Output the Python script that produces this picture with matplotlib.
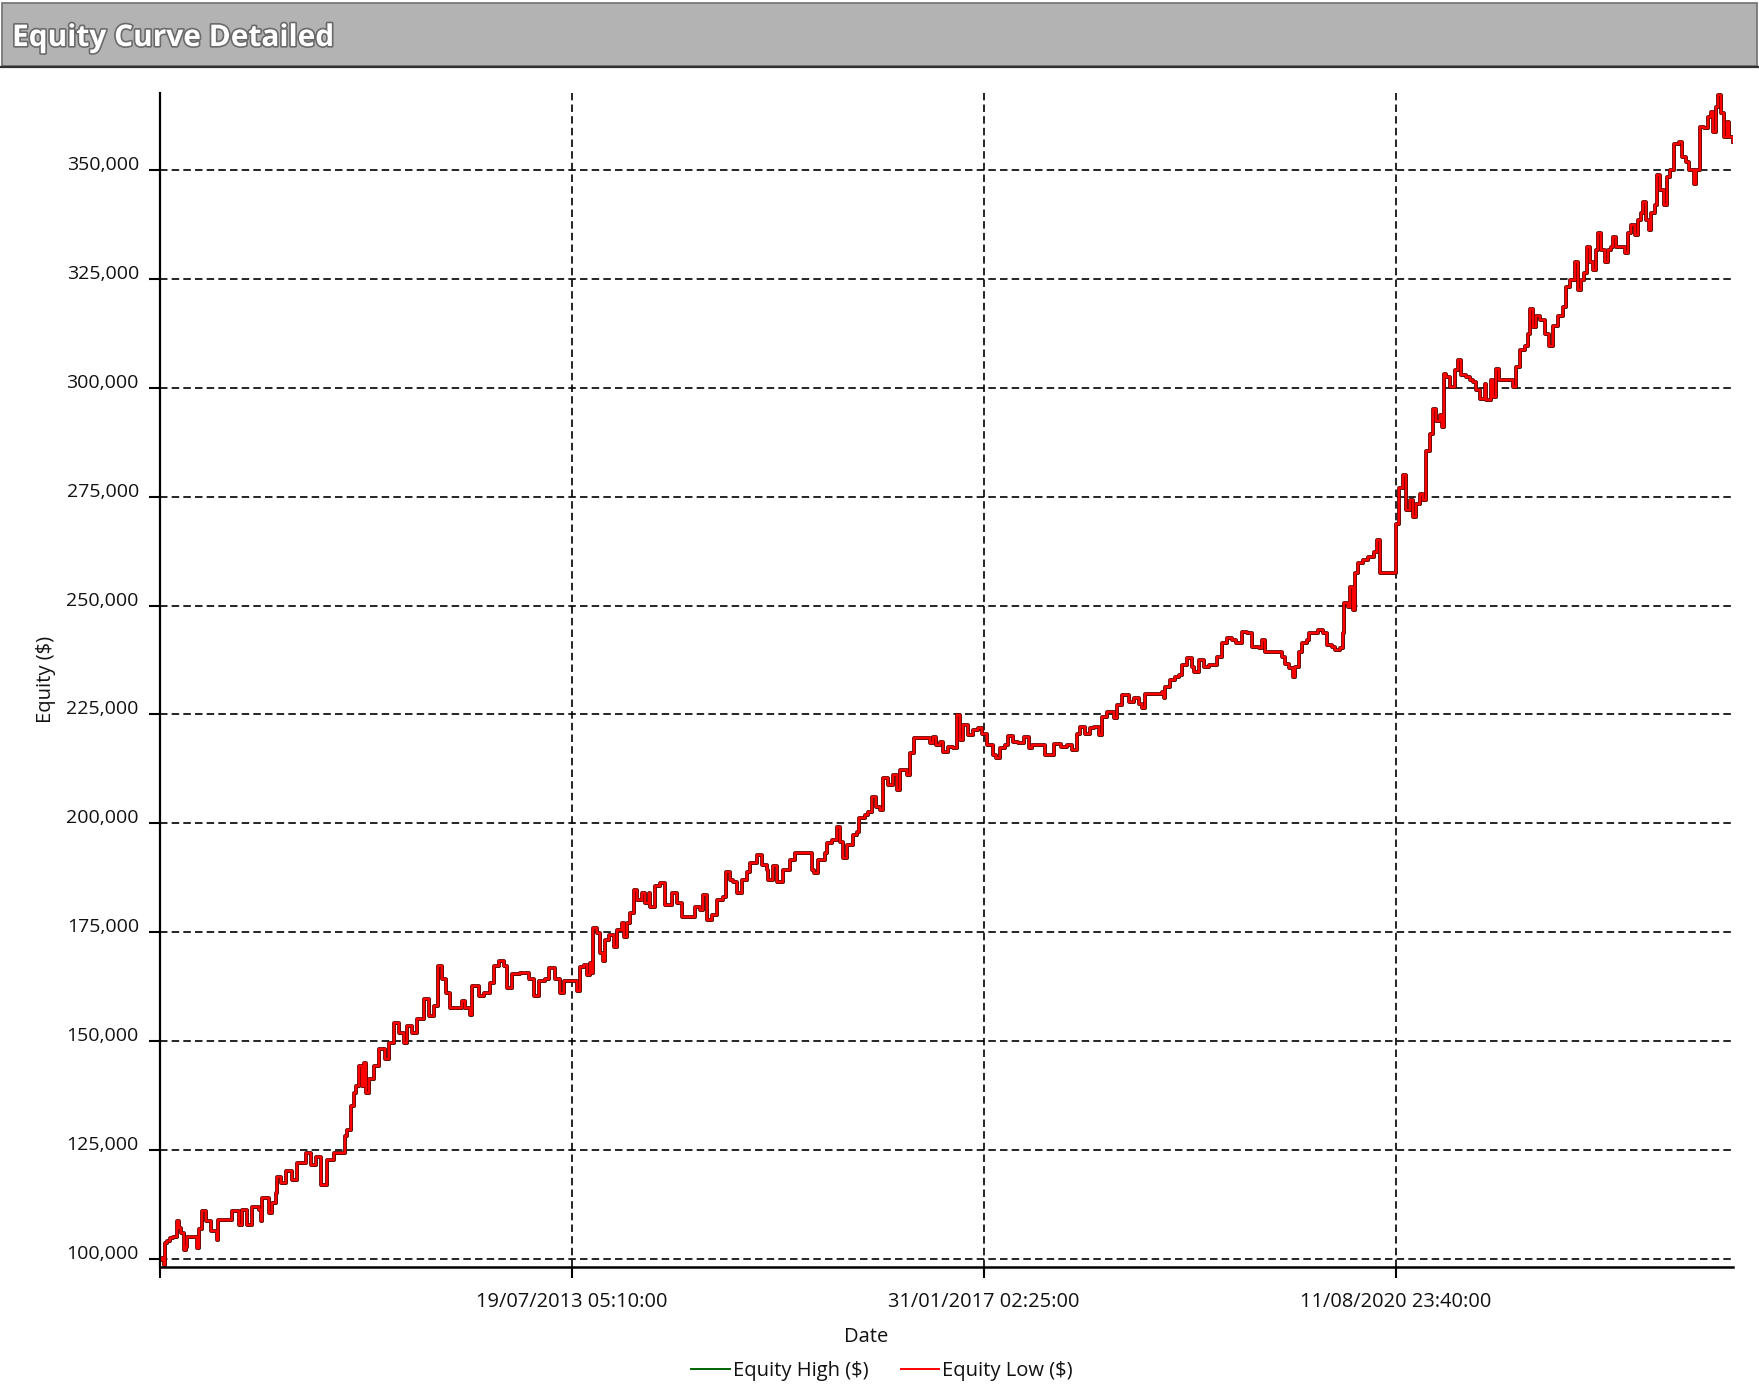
import pandas as pd
import matplotlib
matplotlib.use('Agg')
import matplotlib.pyplot as plt
import matplotlib.patheffects as pe
from matplotlib.patches import Rectangle
from matplotlib.lines import Line2D

plt.rcParams['font.family'] = ['Open Sans', 'DejaVu Sans']

# Equity curve (x = decimal year, y = equity in $)
years = [
    2010.013, 2010.030, 2010.050, 2010.055, 2010.076, 2010.100, 2010.119, 2010.156, 2010.175, 2010.190,
    2010.219, 2010.233, 2010.247, 2010.319, 2010.333, 2010.345, 2010.370, 2010.404, 2010.447, 2010.504,
    2010.510, 2010.604, 2010.633, 2010.690, 2010.718, 2010.761, 2010.804, 2010.861, 2010.876, 2010.890,
    2010.947, 2010.975, 2011.004, 2011.018, 2011.047, 2011.090, 2011.147, 2011.190, 2011.261, 2011.304,
    2011.347, 2011.390, 2011.447, 2011.504, 2011.595, 2011.600, 2011.618, 2011.647, 2011.675, 2011.689,
    2011.718, 2011.747, 2011.761, 2011.775, 2011.804, 2011.846, 2011.889, 2011.946, 2011.975, 2012.018,
    2012.061, 2012.104, 2012.132, 2012.175, 2012.218, 2012.275, 2012.318, 2012.361, 2012.398, 2012.432,
    2012.461, 2012.503, 2012.589, 2012.603, 2012.632, 2012.675, 2012.689, 2012.746, 2012.789, 2012.846,
    2012.875, 2012.918, 2012.960, 2012.989, 2013.032, 2013.103, 2013.175, 2013.217, 2013.260, 2013.317,
    2013.346, 2013.403, 2013.446,
    # 2013 - 2017
    2013.475, 2013.589, 2013.592, 2013.617, 2013.646, 2013.675, 2013.703, 2013.717, 2013.723, 2013.760,
    2013.789, 2013.812, 2013.832, 2013.860, 2013.903, 2013.932, 2013.974, 2013.989, 2014.017, 2014.046,
    2014.074, 2014.103, 2014.146, 2014.174, 2014.203, 2014.217, 2014.260, 2014.303, 2014.346, 2014.403,
    2014.446, 2014.489, 2014.588, 2014.603, 2014.646, 2014.674, 2014.703, 2014.746, 2014.788, 2014.845,
    2014.868, 2014.903, 2014.931, 2014.960, 2015.003, 2015.045, 2015.074, 2015.131, 2015.174, 2015.217,
    2015.231, 2015.274, 2015.302, 2015.331, 2015.359, 2015.417, 2015.459, 2015.488, 2015.588, 2015.602,
    2015.622, 2015.659, 2015.717, 2015.731, 2015.774, 2015.817, 2015.845, 2015.868, 2015.902, 2015.959,
    2015.988, 2016.008, 2016.059, 2016.088, 2016.116, 2016.153, 2016.188, 2016.216, 2016.259, 2016.302,
    2016.331, 2016.359, 2016.416, 2016.445, 2016.479, 2016.516, 2016.582, 2016.616, 2016.645, 2016.673,
    2016.702, 2016.725, 2016.773, 2016.816, 2016.845, 2016.853, 2016.873, 2016.902, 2016.945, 2016.987,
    2017.030, 2017.067, 2017.102, 2017.159, 2017.187, 2017.216, 2017.259, 2017.287, 2017.330, 2017.373,
    # 2017 - 2020
    2017.423, 2017.466, 2017.494, 2017.580, 2017.608, 2017.680, 2017.737, 2017.794, 2017.837, 2017.880,
    2017.908, 2017.951, 2017.994, 2018.022, 2018.065, 2018.094, 2018.137, 2018.194, 2018.222, 2018.265,
    2018.322, 2018.365, 2018.408, 2018.437, 2018.465, 2018.608, 2018.622, 2018.637, 2018.679, 2018.722,
    2018.751, 2018.779, 2018.822, 2018.865, 2018.879, 2018.922, 2018.965, 2019.008, 2019.051, 2019.079,
    2019.122, 2019.165, 2019.208, 2019.245, 2019.293, 2019.336, 2019.379, 2019.436, 2019.465, 2019.493,
    2019.616, 2019.636, 2019.665, 2019.693, 2019.728, 2019.750, 2019.779, 2019.808, 2019.850, 2019.865,
    2019.907, 2019.950, 2019.993, 2020.022, 2020.064, 2020.093, 2020.136, 2020.159, 2020.170, 2020.207,
    2020.222, 2020.250, 2020.264, 2020.293, 2020.336, 2020.379, 2020.422, 2020.450, 2020.479,
    # 2020 - 2023
    2020.481, 2020.604, 2020.619, 2020.641, 2020.676, 2020.704, 2020.733, 2020.761, 2020.790, 2020.818,
    2020.847, 2020.870, 2020.904, 2020.933, 2020.961, 2020.990, 2021.013, 2021.024, 2021.047, 2021.076,
    2021.118, 2021.147, 2021.175, 2021.218, 2021.247, 2021.275, 2021.304, 2021.333, 2021.375, 2021.390,
    2021.433, 2021.447, 2021.475, 2021.495, 2021.604, 2021.618, 2021.647, 2021.675, 2021.718, 2021.747,
    2021.761, 2021.790, 2021.818, 2021.847, 2021.889, 2021.927, 2021.961, 2022.004, 2022.047,
    2022.075, 2022.104, 2022.147, 2022.175, 2022.204, 2022.232, 2022.252, 2022.281, 2022.304, 2022.332,
    2022.347, 2022.375, 2022.404, 2022.432, 2022.461, 2022.475, 2022.504, 2022.581, 2022.583, 2022.604,
    2022.632, 2022.661, 2022.690, 2022.718, 2022.733, 2022.761, 2022.784, 2022.804, 2022.833, 2022.855,
    2022.881, 2022.913, 2022.938, 2022.967, 2022.996, 2023.041, 2023.070, 2023.103, 2023.132, 2023.169,
    2023.189, 2023.218, 2023.220, 2023.261, 2023.289, 2023.318, 2023.332, 2023.361, 2023.381, 2023.403,
    2023.432, 2023.452, 2023.475, 2023.504,
]

equity_low = [
    99800, 100200, 98600, 103700, 104000, 104800, 105000, 108600, 107200, 105900,
    102100, 102800, 105100, 105100, 102500, 106800, 110900, 108600, 106300, 104400,
    109000, 109000, 110900, 107800, 111300, 107800, 112000, 111300, 108600, 114000,
    110500, 112800, 115100, 118900, 117400, 120100, 118200, 122000, 124300, 121600,
    123500, 117000, 122800, 124300, 124300, 128200, 129700, 135000, 138100, 139700,
    144300, 139700, 145000, 138100, 141200, 144300, 148100, 145800, 149600, 154200,
    151900, 149600, 153500, 151900, 155000, 159600, 155800, 158100, 167300, 164200,
    161100, 157700, 157700, 159200, 157700, 156100, 162700, 160400, 161100, 163400,
    167300, 168400, 167300, 162300, 165400, 165700, 164200, 160400, 163800, 164200,
    166900, 164200, 161100,
    163700, 163700, 161400, 167100, 167500, 165200, 167900, 165600, 175900, 174800,
    170200, 168300, 173200, 174400, 171700, 175500, 177100, 174000, 177100, 179400,
    184700, 182400, 183900, 181700, 183900, 180900, 185500, 186200, 181300, 183900,
    181700, 178600, 178600, 180900, 180100, 183600, 177800, 179000, 182400, 183200,
    188900, 187000, 186600, 183900, 187000, 188900, 190800, 192700, 190400, 189300,
    187000, 190100, 186600, 186600, 189300, 191600, 193100, 193300, 193300, 189300,
    188500, 191600, 193100, 195400, 196200, 199200, 195800, 192000, 195000, 197300,
    198100, 201200, 201900, 202700, 206100, 203800, 203100, 210300, 208800, 211100,
    207600, 212200, 211100, 216100, 219500, 219700, 219700, 218400, 219900, 218000,
    218700, 216400, 217600, 217200, 218700, 224900, 219100, 222600, 220300, 221400,
    221800, 220600, 218000, 215700, 214900, 217200, 218000, 220000, 218700, 218400,
    219900, 217200, 218000, 218000, 215700, 218300, 217600, 218000, 216800, 220600,
    222200, 220600, 221800, 222200, 220300, 224500, 225600, 224100, 227100, 229400,
    227900, 228700, 227500, 226400, 229800, 230200, 228700, 231400, 232900, 233700,
    234000, 236300, 237900, 236000, 234800, 237500, 236000, 236300, 236300, 238300,
    241300, 242500, 242100, 241300, 244000, 243600, 240600, 240200, 242100, 239400,
    239400, 238300, 236700, 235600, 233700, 236000, 239400, 241300, 242100, 243600,
    243600, 244400, 243600, 240900, 240600, 239800, 240200, 243600, 250500, 249700,
    254300, 249000, 257400, 259700, 260500, 261200, 262400, 265100, 259700,
    257500, 257500, 268800, 276900, 279900, 271900, 274200, 270300, 273400, 275700,
    274200, 285600, 289500, 295200, 292500, 293700, 291000, 303200, 302500, 300200,
    304000, 306300, 302900, 302500, 301700, 301300, 299400, 297500, 300900, 297100,
    301700, 297900, 304400, 301700, 301700, 300200, 304800, 308600, 309700, 312400,
    318200, 314000, 316600, 315500, 312400, 309700, 314300, 316600, 318500,
    323200, 324700, 329000, 322400, 324700, 326300, 332400, 329000, 327000, 331600,
    335500, 331600, 329000, 331600, 332400, 334700, 332400, 332400, 330900, 335500,
    337400, 335100, 338500, 340100, 342700, 338500, 336200, 340100, 342000, 348900,
    345400, 342000, 348500, 350000, 356100, 356500, 353100, 351900, 350000, 346800,
    350000, 350000, 360000, 359600, 362300, 363400, 358800, 364600, 367300, 363000,
    357700, 361100, 357700, 356500,
]

# high curve sits on top of the low curve at this scale
equity_high = equity_low

y_ticks = [100000, 125000, 150000, 175000, 200000, 225000, 250000, 275000, 300000, 325000, 350000]
date_labels = ['19/07/2013 05:10:00', '31/01/2017 02:25:00', '11/08/2020 23:40:00']
series_names = ['Equity High ($)', 'Equity Low ($)']
series_colors = ['#006400', '#ff0000']


def decimal_year(s):
    d = pd.to_datetime(s, format='%d/%m/%Y %H:%M:%S')
    start = pd.Timestamp(year=d.year, month=1, day=1)
    end = pd.Timestamp(year=d.year + 1, month=1, day=1)
    return d.year + (d - start) / (end - start)


tick_pos = [decimal_year(s) for s in date_labels]
first_tick = 2 * tick_pos[0] - tick_pos[1]

fig = plt.figure(figsize=(17.59, 13.94), dpi=100)
fig.patch.set_facecolor('white')

# Grey header bar
fig.patches.append(Rectangle((0.001, 1 - 66 / 1394), 0.998, 63 / 1394, transform=fig.transFigure,
                             facecolor='#b3b3b3', edgecolor='#707070', linewidth=1.2, zorder=0))
fig.lines.append(Line2D([0, 1], [1 - 66.5 / 1394] * 2, transform=fig.transFigure, color='#303030', linewidth=1.6))
fig.text(12 / 1759, 1 - 38 / 1394, 'Equity Curve Detailed', color='white', fontsize=21.5, fontweight='bold',
         va='center', ha='left',
         path_effects=[pe.withStroke(linewidth=2.4, foreground='#6a6a6a')])

ax = fig.add_axes([159.7 / 1759, 1 - 1266.7 / 1394, 1573.3 / 1759, 1173.7 / 1394])

# Equity lines (stepped, as the equity only changes when a trade closes)
ax.plot(years, equity_high, color=series_colors[0], linewidth=1.8, drawstyle='steps-post')
ax.plot(years, equity_low, color=series_colors[1], linewidth=1.7, drawstyle='steps-post',
        path_effects=[pe.Stroke(linewidth=2.7, foreground='#500000'), pe.Normal()])

ax.set_xlim(first_tick, 2023.506)
ax.set_ylim(98200, 367700)

ax.set_xticks([first_tick] + tick_pos)
ax.set_xticklabels([''] + date_labels, fontsize=14.4)
ax.set_yticks(y_ticks)
ax.set_yticklabels(['{:,}'.format(v) for v in y_ticks], fontsize=14)
for lbl in ax.get_yticklabels():
    lbl.set_verticalalignment('baseline')

ax.tick_params(axis='both', direction='out', length=8, width=1.5, color='black', labelcolor='#111111')
ax.tick_params(axis='x', pad=10)
ax.tick_params(axis='y', pad=7)

ax.grid(True, color='black', linestyle=(0, (4.5, 2.5)), linewidth=1.2)

for side in ['top', 'right']:
    ax.spines[side].set_visible(False)
ax.spines['left'].set_linewidth(1.6)
ax.spines['bottom'].set_linewidth(1.8)

ax.set_ylabel('Equity ($)', fontsize=14.5, color='#111111')
ax.yaxis.set_label_coords(-0.0659, 0.5)
ax.set_xlabel('Date', fontsize=14.5, color='#111111')
ax.xaxis.label.set_verticalalignment('center')
ax.xaxis.set_label_coords(0.449, -0.0599)

# Legend with plain line handles
handles = [Line2D([], [], color=c, linewidth=1.4) for c in series_colors]
fig.legend(handles, series_names, loc='center', bbox_to_anchor=(882 / 1759, 1 - 1371 / 1394), ncol=2,
           frameon=False, fontsize=14.5, handlelength=1.9, handletextpad=0.15, columnspacing=1.6,
           labelcolor='#111111')

plt.savefig('out.png', dpi=100)
